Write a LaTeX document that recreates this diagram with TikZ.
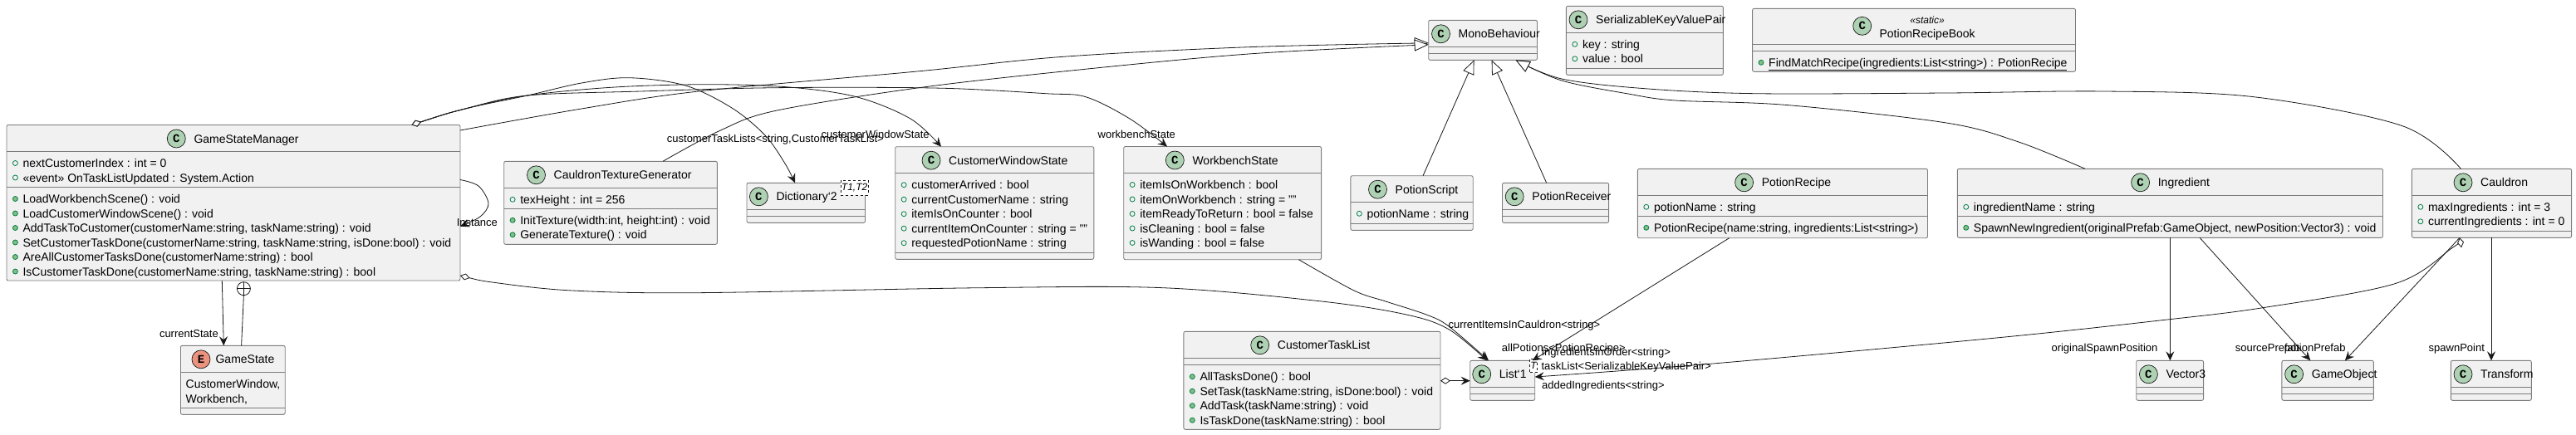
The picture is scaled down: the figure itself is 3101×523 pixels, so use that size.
\documentclass[tikz,border=0pt]{standalone}
\usepackage{fontspec}
\setmainfont{Liberation Sans}
\newfontfamily\spotfamily{Liberation Mono}
\usetikzlibrary{arrows.meta,positioning}
\definecolor{boxFill}{HTML}{F1F1F1}
\definecolor{boxEdge}{HTML}{7C7C7C}
\definecolor{inkDark}{HTML}{181818}
\definecolor{spotGreen}{HTML}{ADD1B2}
\definecolor{spotRed}{HTML}{EB937F}
\definecolor{markEdge}{HTML}{038048}
\definecolor{markFill}{HTML}{84BE84}
\tikzset{
	umlbox/.style={draw=boxEdge,fill=boxFill,rounded corners=2pt,line width=.9pt,anchor=north west,inner sep=0pt,outer sep=0pt},
	sepline/.style={draw=boxEdge,line width=.9pt},
	spot/.style={circle,draw=inkDark,line width=.7pt,fill=spotGreen,minimum size=22pt,inner sep=0pt,outer sep=0pt,font=\spotfamily\bfseries\fontsize{14}{14}\selectfont},
	titletext/.style={anchor=west,inner sep=0pt,text height=10pt,text depth=0pt,font=\fontsize{14}{17}\selectfont},
	rowtext/.style={anchor=west,inner sep=0pt,text height=10pt,text depth=0pt,font=\fontsize{14}{17}\selectfont},
	attrmark/.style={circle,draw=markEdge,line width=.8pt,minimum size=6pt,inner sep=0pt,outer sep=0pt},
	methmark/.style={attrmark,fill=markFill},
	edgelabel/.style={anchor=west,inner sep=0pt,text height=9pt,text depth=0pt,font=\fontsize{13}{15}\selectfont},
	tmplbox/.style={draw=inkDark,dashed,line width=.6pt,fill=white,anchor=north west,inner sep=0pt,font=\itshape\fontsize{12}{14}\selectfont},
	edge/.style={draw=inkDark,line width=.8pt},
	assoc/.style={edge,-{Stealth[length=11pt,width=10pt,inset=4pt]}},
	aggr/.style={edge,{Diamond[open,fill=white,length=12pt,width=8pt]}-{Stealth[length=11pt,width=10pt,inset=4pt]}},
	extends/.style={edge,-{Triangle[open,fill=white,length=17pt,width=14pt]}},
	curve/.style={smooth,tension=.55},
}
\newcommand{\classbox}[7]{
	\node[umlbox,minimum width=#4pt,minimum height=#5pt] (#1) at (#2,#3) {};
	\draw[sepline] ([yshift=-#6pt]#1.north west) -- ([yshift=-#6pt]#1.north east);
	\draw[sepline] ([yshift=-#7pt]#1.north west) -- ([yshift=-#7pt]#1.north east);
}
\newcommand{\classhead}[3]{
	\node[spot] (#1Spot) at ([xshift=#2pt,yshift=-16.5pt]#1.north west) {C};
	\node[titletext,right=10pt of #1Spot] (#1Title) {#3};
}
\newcommand{\classrows}[4]{
	\foreach \rowtxt [count=\rowi from 0] in {#4} {
		\node[#2] (#1#2\rowi) at ([xshift=10.4pt,yshift={-(#3+14+17.5*\rowi)*1pt}]#1.north west) {};
		\node[rowtext,right=6pt of #1#2\rowi] (#1#2Text\rowi) {\rowtxt};
	}
}
\begin{document}
\begin{tikzpicture}[x=1pt,y=-1pt]
	\useasboundingbox (0,0) rectangle (3101,523);

	\classbox{gsm}{8}{150.5}{546}{187.5}{32}{75}
	\classhead{gsm}{204.3}{GameStateManager}
	\classrows{gsm}{attrmark}{32}{nextCustomerIndex : int = 0,«event» OnTaskListUpdated : System.Action}
	\classrows{gsm}{methmark}{75}{LoadWorkbenchScene() : void,LoadCustomerWindowScene() : void,{AddTaskToCustomer(customerName:string, taskName:string) : void},{SetCustomerTaskDone(customerName:string, taskName:string, isDone:bool) : void},AreAllCustomerTasksDone(customerName:string) : bool,{IsCustomerTaskDone(customerName:string, taskName:string) : bool}}

	\classbox{gameState}{217.5}{416.3}{125.7}{83}{32.4}{75}
	\node[spot,fill=spotRed] (gameStateSpot) at ([xshift=24.5pt,yshift=-16.5pt]gameState.north west) {E};
	\node[titletext,right=6.4pt of gameStateSpot] (gameStateTitle) {GameState};
	\node[rowtext] (gameStateRowA) at ([xshift=6pt,yshift=-45.7pt]gameState.north west) {CustomerWindow,};
	\node[rowtext] (gameStateRowB) at ([xshift=6pt,yshift=-63.7pt]gameState.north west) {Workbench,};

	\classbox{texGen}{606.7}{194.3}{256.7}{100}{32.4}{57}
	\classhead{texGen}{38.8}{CauldronTextureGenerator}
	\classrows{texGen}{attrmark}{32}{texHeight : int = 256}
	\classrows{texGen}{methmark}{57}{{InitTexture(width:int, height:int) : void},GenerateTexture() : void}

	\classbox{dict}{899}{220.3}{142.5}{48}{32}{40}
	\classhead{dict}{14.4}{Dictionary`2}
	\node[tmplbox,minimum width=33.4pt,minimum height=17.4pt] (dictTmpl) at (1011.6,217.3) {T1,T2};

	\classbox{custWin}{1077.7}{176.7}{239.1}{135.6}{32}{127.3}
	\classhead{custWin}{43.3}{CustomerWindowState}
	\classrows{custWin}{attrmark}{32}{customerArrived : bool,currentCustomerName : string,itemIsOnCounter : bool,currentItemOnCounter : string = "",requestedPotionName : string}

	\classbox{workbench}{1352.7}{176.5}{237.9}{136.2}{32}{127.8}
	\classhead{workbench}{61.6}{WorkbenchState}
	\classrows{workbench}{attrmark}{32}{itemIsOnWorkbench : bool,itemOnWorkbench : string = "",itemReadyToReturn : bool = false,isCleaning : bool = false,isWanding : bool = false}

	\classbox{potionScript}{1625.9}{211.7}{147.3}{65.6}{31.6}{57.6}
	\classhead{potionScript}{32.6}{PotionScript}
	\classrows{potionScript}{attrmark}{31.6}{potionName : string}

	\classbox{receiver}{1808.5}{220.3}{128.1}{48}{32}{40}
	\classhead{receiver}{14.7}{PotionReceiver}

	\classbox{mono}{1719.7}{24.3}{130.8}{48}{32}{40}
	\classhead{mono}{14.8}{MonoBehaviour}

	\classbox{kvPair}{1885.4}{7.3}{189}{83}{32}{75}
	\classhead{kvPair}{14.6}{SerializableKeyValuePair}
	\classrows{kvPair}{attrmark}{32}{key : string,value : bool}

	\classbox{book}{2109.6}{10.3}{388.9}{76}{43}{51}
	\node[spot] (bookSpot) at ([xshift=132.1pt,yshift=-21pt]book.north west) {C};
	\node[titletext] (bookTitle) at ([xshift=20.6pt,yshift=-8.7pt]bookSpot.center) {PotionRecipeBook};
	\node[inner sep=0pt,font=\itshape\fontsize{12}{14}\selectfont] (bookStereo) at ([yshift=16pt]bookTitle.center) {«static»};
	\classrows{book}{methmark}{51}{\underline{FindMatchRecipe(ingredients:List<string>) : PotionRecipe}}

	\classbox{recipe}{1971.4}{203.3}{349.1}{83.4}{32}{57}
	\classhead{recipe}{128.2}{PotionRecipe}
	\classrows{recipe}{attrmark}{32}{potionName : string}
	\classrows{recipe}{methmark}{57}{{PotionRecipe(name:string, ingredients:List<string>)}}

	\classbox{ingredient}{2356.3}{203.3}{512.2}{83}{32}{57}
	\classhead{ingredient}{220.3}{Ingredient}
	\classrows{ingredient}{attrmark}{32}{ingredientName : string}
	\classrows{ingredient}{methmark}{57}{{SpawnNewIngredient(originalPrefab:GameObject, newPosition:Vector3) : void}}

	\classbox{cauldron}{2903.4}{203.3}{192.2}{83}{32}{75}
	\classhead{cauldron}{61.6}{Cauldron}
	\classrows{cauldron}{attrmark}{32}{maxIngredients : int = 3,currentIngredients : int = 0}

	\classbox{taskList}{1424.9}{399.3}{309.1}{118}{32}{40.4}
	\classhead{taskList}{91.8}{CustomerTaskList}
	\classrows{taskList}{methmark}{40.4}{AllTasksDone() : bool,{SetTask(taskName:string, isDone:bool) : void},AddTask(taskName:string) : void,IsTaskDone(taskName:string) : bool}

	\classbox{list}{1769.7}{434.3}{78}{48}{32.4}{40}
	\classhead{list}{14}{List`1}
	\node[tmplbox,minimum width=9pt,minimum height=16.6pt] (listTmpl) at (1841.3,431.7) {T};

	\classbox{vec}{2571.7}{434.3}{80.9}{48}{32}{40}
	\classhead{vec}{14.7}{Vector3}
	\classbox{gameObject}{2746.9}{434.3}{110.4}{48}{32}{40}
	\classhead{gameObject}{14.7}{GameObject}
	\classbox{transform}{2950.3}{434.3}{97}{48}{32}{40}
	\classhead{transform}{14.7}{Transform}

	\draw[aggr] plot[curve] coordinates {([xshift=487.5pt]gsm.north west) (560,131) (635,115) (700,100) (757.5,93.7) (825,103) (881,130) (921,163) (945,197) ([xshift=58pt]dict.north west)};
	\draw[aggr] plot[curve] coordinates {([xshift=487.5pt]gsm.north west) (560,131) (635,115) (740,105) (852,101.7) (950,105) (1031,116.7) (1096,143) ([xshift=55.3pt]custWin.north west)};
	\draw[aggr] plot[curve] coordinates {([xshift=487.5pt]gsm.north west) (560,131) (635,115) (771,110) (912,106) (1042,105.3) (1150,106.7) (1259,112.7) (1307,116.7) (1360,143) ([xshift=52.3pt]workbench.north west)};

	\draw[extends] plot[curve] coordinates {([yshift=-6.5pt]gsm.north east) (700,131) (841,110) (1104,86) (1280,68.3) (1503,56.7) ([yshift=-27.5pt]mono.north west)};
	\draw[extends] plot[curve] coordinates {([xshift=191.3pt]texGen.north west) (868,156.7) (934,133.3) (1104,106) (1280,86) (1503,65) ([yshift=-29.5pt]mono.north west)};
	\draw[extends] ([xshift=87.1pt]potionScript.north west) -- ([xshift=54.9pt]mono.south west);
	\draw[extends] ([xshift=53.2pt]receiver.north west) -- ([xshift=75.9pt]mono.south west);
	\draw[extends] plot[curve] coordinates {([xshift=153.7pt]ingredient.north west) (2430,171) (2343,148) (2151,126.5) (2017,121) (1960,113) (1880,97) ([xshift=104.9pt]mono.south west)};
	\draw[extends] plot[curve] coordinates {([xshift=59pt]cauldron.north west) (2892,151.7) (2713,116.7) (2534,110) (2343,112) (2113,112.7) (1980,106.7) (1880,95) ([xshift=104.9pt]mono.south west)};

	\draw[assoc] plot[curve] coordinates {([yshift=-66pt]gsm.north east) (576,224) (588,245) (578,261) ([yshift=-122.2pt]gsm.north east)};
	\draw[assoc] ([xshift=259.3pt]gsm.south west) -- ([xshift=51.8pt]gameState.north west);
	\node[circle,draw=inkDark,line width=.8pt,fill=white,minimum size=16pt,inner sep=0pt,outer sep=0pt] (gsmNest) at (293.4,347.7) {};
	\draw[edge] (gsmNest.north) -- (gsmNest.south);
	\draw[edge] (gsmNest.west) -- (gsmNest.east);
	\draw[edge] (gsmNest.south) -- ([xshift=73.1pt]gameState.north west);

	\draw[aggr] plot[curve] coordinates {([yshift=6pt]gsm.south east) (600,341) (689,350) (837,352.7) (1180,346.7) (1400,346.7) (1591,363) (1693,379) (1744,396.7) ([xshift=20.3pt]list.north west)};
	\draw[assoc] plot[curve] coordinates {([xshift=210.7pt]workbench.south west) (1630,350) (1668,363) (1717,379) (1744,393) ([xshift=22.3pt]list.north west)};
	\draw[assoc] ([xshift=110.3pt]recipe.south west) -- ([xshift=75pt]list.north west);
	\draw[aggr] ([yshift=-59.4pt]taskList.north east) -- ([yshift=-24.4pt]list.north west);
	\draw[assoc] ([xshift=57.6pt]cauldron.south west) -- ([xshift=76pt]gameObject.north west);
	\draw[aggr] plot[curve] coordinates {([xshift=57.6pt]cauldron.south west) (2950,300) (2883,341.7) (2724,370.7) (2600,386) (2400,407.3) (2062,438) ([yshift=-19.7pt]list.north east)};
	\draw[assoc] ([xshift=256pt]ingredient.south west) -- ([xshift=40.6pt]vec.north west);
	\draw[assoc] ([xshift=291.7pt]ingredient.south west) -- ([xshift=34.4pt]gameObject.north west);
	\draw[assoc] ([xshift=95.6pt]cauldron.south west) -- ([xshift=48.7pt]transform.north west);

	\node[edgelabel] (labInstance) at (549.6,268) {Instance};
	\node[edgelabel] (labCurrentState) at (191.8,401.7) {currentState};
	\node[edgelabel] (labTaskLists) at (802.7,166.7) {customerTaskLists<string,CustomerTaskList>};
	\node[edgelabel] (labWindowState) at (988.4,161.7) {customerWindowState};
	\node[edgelabel] (labWorkbenchState) at (1321.5,161.7) {workbenchState};
	\node[edgelabel] (labItems) at (1743.3,390.7) {currentItemsInCauldron<string>};
	\node[edgelabel] (labPotions) at (1807.7,418.7) {allPotions<PotionRecipe>};
	\node[edgelabel] (labInOrder) at (1856,424.3) {ingredientsInOrder<string>};
	\node[edgelabel] (labTaskList) at (1855.4,440.7) {taskList<SerializableKeyValuePair>};
	\node[edgelabel] (labAdded) at (1856,463.7) {addedIngredients<string>};
	\node[edgelabel] (labSpawnPos) at (2469.3,419) {originalSpawnPosition};
	\node[edgelabel] (labSource) at (2690.6,419) {sourcePrefab};
	\node[edgelabel] (labPotionPrefab) at (2749.6,419) {potionPrefab};
	\node[edgelabel] (labSpawnPoint) at (2923.5,419) {spawnPoint};
\end{tikzpicture}
\end{document}
